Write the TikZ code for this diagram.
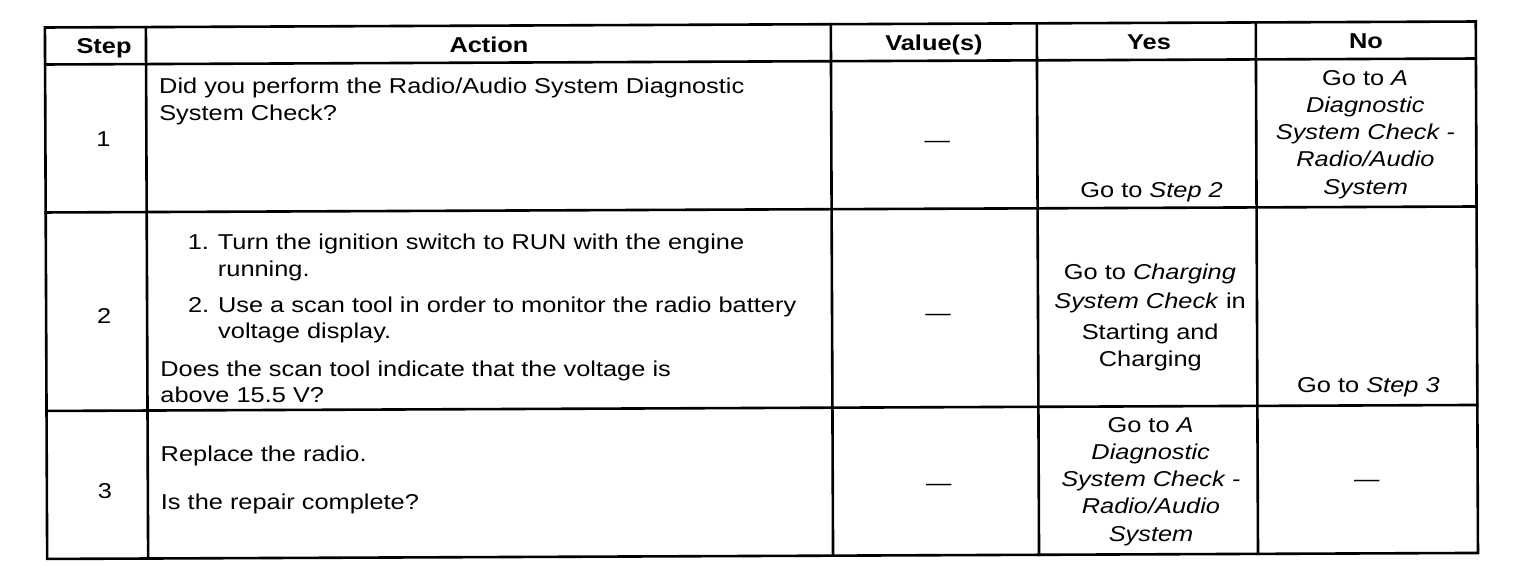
\documentclass[tikz,border=0pt]{standalone}
\usepackage{fontspec}
\setmainfont{Liberation Sans}[FakeStretch=1.18]
\begin{document}
\begin{tikzpicture}[x=1pt,y=-1pt,
  every node/.style={inner sep=0pt,outer sep=0pt,font=\fontsize{21.5}{27}\selectfont},
  grid/.style={line width=2.6pt,line cap=rect},
  hd/.style={font=\fontsize{21.5}{27}\selectfont\bfseries,anchor=base},
  ctr/.style={anchor=base},
  lft/.style={anchor=base west}]
\useasboundingbox (0,0) rectangle (1520,588);
\begin{scope}[rotate around={0.24:(760,290)}]
% grid coordinates
\coordinate (x0t) at (46,24.5);   \coordinate (x0b) at (46,556);
\coordinate (x1t) at (147,24.5);  \coordinate (x1b) at (147,556);
\coordinate (x2t) at (832,24.5);  \coordinate (x2b) at (832,556);
\coordinate (x3t) at (1038,24.5); \coordinate (x3b) at (1038,556);
\coordinate (x4t) at (1257,24.5); \coordinate (x4b) at (1257,556);
\coordinate (x5t) at (1477,24.5); \coordinate (x5b) at (1477,556);
\coordinate (h1l) at (46,61.5);  \coordinate (h1r) at (1477,61.5);
\coordinate (r1l) at (46,209.5); \coordinate (r1r) at (1477,209.5);
\coordinate (r2l) at (46,408);   \coordinate (r2r) at (1477,408);
\draw[grid] (x0t) rectangle (x5b);
\draw[grid] (x1t) -- (x1b);
\draw[grid] (x2t) -- (x2b);
\draw[grid] (x3t) -- (x3b);
\draw[grid] (x4t) -- (x4b);
\draw[grid] (h1l) -- (h1r);
\draw[grid] (r1l) -- (r1r);
\draw[grid] (r2l) -- (r2r);
% header
\node[hd] (hstep) at (105,51) {Step};
\node[hd] (hact) at (490,51) {Action};
\node[hd] (hval) at (935,51) {Value(s)};
\node[hd] (hyes) at (1150,51) {Yes};
\node[hd] (hno) at (1367,51) {No};
% row 1
\node[ctr] (s1) at (104,144) {1};
\node[lft] (a1a) at (160,90.5) {Did you perform the Radio/Audio System Diagnostic};
\node[lft] (a1b) at (160,117.5) {System Check?};
\node[ctr] (v1) at (938,148) {—};
\node[ctr] (y1) at (1152,199.5) {Go to \textit{Step 2}};
\node[ctr] (n1a) at (1366,88.5) {Go to \textit{A}};
\node[ctr] (n1b) at (1366,115.5) {\textit{Diagnostic}};
\node[ctr] (n1c) at (1366,142.5) {\textit{System Check -}};
\node[ctr] (n1d) at (1366,169.5) {\textit{Radio/Audio}};
\node[ctr] (n1e) at (1366,197.5) {\textit{System}};
% row 2
\node[ctr] (s2) at (104,321) {2};
\node[lft] (a2n1) at (188,247.5) {1.};
\node[lft] (a2a) at (218,247.5) {Turn the ignition switch to RUN with the engine};
\node[lft] (a2b) at (218,274.5) {running.};
\node[lft] (a2n2) at (188,310.5) {2.};
\node[lft] (a2c) at (218,310.5) {Use a scan tool in order to monitor the radio battery};
\node[lft] (a2d) at (218,336.5) {voltage display.};
\node[lft] (a2e) at (160,373.5) {Does the scan tool indicate that the voltage is};
\node[lft] (a2f) at (160,399.5) {above 15.5 V?};
\node[ctr] (v2) at (938,321) {—};
\node[ctr] (y2a) at (1150,281.5) {Go to \textit{Charging}};
\node[ctr] (y2b) at (1150,310.5) {\textit{System Check} in};
\node[ctr] (y2c) at (1150,341.5) {Starting and};
\node[ctr] (y2d) at (1150,368.5) {Charging};
\node[ctr] (n2) at (1368,395.5) {Go to \textit{Step 3}};
% row 3
\node[ctr] (s3) at (104,496) {3};
\node[lft] (a3a) at (160,458.5) {Replace the radio.};
\node[lft] (a3b) at (160,506.5) {Is the repair complete?};
\node[ctr] (v3) at (938,491) {—};
\node[ctr] (y3a) at (1150,434.5) {Go to \textit{A}};
\node[ctr] (y3b) at (1150,461.5) {\textit{Diagnostic}};
\node[ctr] (y3c) at (1150,488.5) {\textit{System Check -}};
\node[ctr] (y3d) at (1150,515.5) {\textit{Radio/Audio}};
\node[ctr] (y3e) at (1150,543.5) {\textit{System}};
\node[ctr] (n3) at (1366,489.5) {—};
\end{scope}
\end{tikzpicture}
\end{document}
